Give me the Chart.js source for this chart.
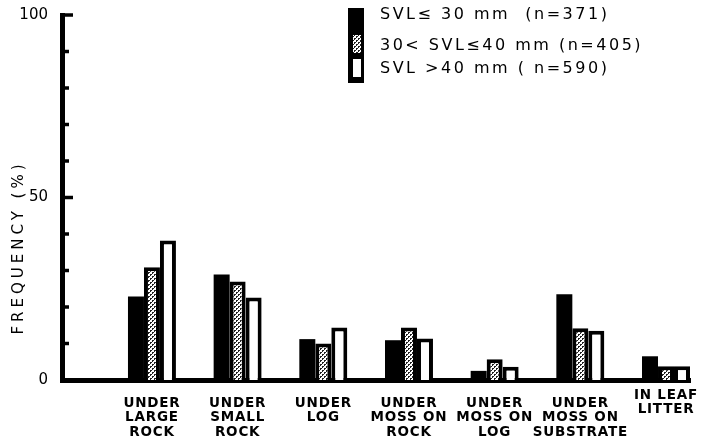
<!DOCTYPE html>
<html>
<head>
<meta charset="utf-8">
<script src="https://cdn.jsdelivr.net/npm/chart.js@4.4.0/dist/chart.umd.min.js"></script>
<style>
  html, body { margin: 0; padding: 0; background: #fff; }
  #wrap { width: 714px; height: 440px; position: relative; }
</style>
</head>
<body>
<div id="wrap"><canvas id="chart" width="714" height="440"></canvas></div>
<script>
// habitat categories (x axis, one entry per group, one string per line)
const categories = [
  ['UNDER', 'LARGE', 'ROCK'],
  ['UNDER', 'SMALL', 'ROCK'],
  ['UNDER', 'LOG'],
  ['UNDER', 'MOSS ON', 'ROCK'],
  ['UNDER', 'MOSS ON', 'LOG'],
  ['UNDER', 'MOSS ON', 'SUBSTRATE'],
  ['IN LEAF', 'LITTER']
];
// frequency (%) per size class
const svlSmall  = [22.9, 28.9, 11.2, 10.9, 2.5, 23.5, 6.5];
const svlMedium = [30.9, 27.0, 10.0, 14.4, 5.7, 14.2, 3.8];
const svlLarge  = [38.2, 22.6, 14.4, 11.4, 3.6, 13.5, 3.8];
const seriesLabels = ['SVL\u2264 30 mm  (n=371)', '30< SVL\u226440 mm (n=405)', 'SVL >40 mm ( n=590)'];
const yTickLabels = [0, 50, 100];

// stippled fill for the middle class
function stipple() {
  const c = document.createElement('canvas');
  c.width = 4; c.height = 4;
  const g = c.getContext('2d');
  g.fillStyle = '#fff';
  g.fillRect(0, 0, 4, 4);
  g.fillStyle = '#222';
  g.fillRect(0, 0, 2, 1);
  g.fillRect(0, 1, 1, 1);
  g.fillRect(2, 2, 2, 1);
  g.fillRect(2, 3, 1, 1);
  return g.createPattern(c, 'repeat');
}
const dots = stipple();

const toPoints = (arr) => arr.map((v, i) => ({ x: i + 1, y: v }));

const font = '"DejaVu Sans", sans-serif';

// short ticks pointing into the plot
const innerTicks = {
  id: 'innerTicks',
  afterDraw(chart) {
    const y = chart.scales.y;
    const ctx = chart.ctx;
    ctx.save();
    ctx.strokeStyle = '#000';
    ctx.lineWidth = 3.5;
    y.ticks.forEach(t => {
      const py = y.getPixelForValue(t.value);
      const len = yTickLabels.includes(t.value) ? 11 : 7;
      ctx.beginPath();
      ctx.moveTo(y.right, py);
      ctx.lineTo(y.right + len, py);
      ctx.stroke();
    });
    ctx.restore();
  }
};

// category labels, legend and axis title
const annotations = {
  id: 'annotations',
  afterDraw(chart) {
    const ctx = chart.ctx;
    const x = chart.scales.x;
    const y = chart.scales.y;
    ctx.save();
    ctx.fillStyle = '#000';
    ctx.textBaseline = 'middle';

    // x labels
    ctx.font = 'bold 13.5px ' + font;
    ctx.letterSpacing = '0.8px';
    ctx.textAlign = 'center';
    categories.forEach((lines, i) => {
      const px = x.getPixelForValue(i + 1);
      const shift = i === categories.length - 1 ? -8 : 0;
      lines.forEach((s, j) => {
        ctx.fillText(s, px, x.top + 23 + shift + j * 14.5);
      });
    });

    // y title
    ctx.save();
    ctx.font = '15px ' + font;
    ctx.letterSpacing = '4px';
    ctx.translate(19, (y.top + y.bottom) / 2 + 50);
    ctx.rotate(-Math.PI / 2);
    ctx.fillText('FREQUENCY (%)', 0, 0);
    ctx.restore();

    // legend
    const lx = 348, ly = 8;
    ctx.fillStyle = '#000';
    ctx.fillRect(lx, ly, 16, 75);
    ctx.fillStyle = dots;
    ctx.fillRect(lx + 5, ly + 27, 8, 18);
    ctx.fillStyle = '#fff';
    ctx.fillRect(lx + 5, ly + 51, 8, 18);
    ctx.fillStyle = '#000';
    ctx.textAlign = 'left';
    ctx.font = '16px ' + font;
    ctx.letterSpacing = '2.5px';
    const rows = [15, 46, 69];
    seriesLabels.forEach((s, i) => ctx.fillText(s, 380, rows[i]));
    ctx.restore();
  }
};

new Chart(document.getElementById('chart'), {
  type: 'bar',
  data: {
    datasets: [
      { label: seriesLabels[0], data: toPoints(svlSmall), backgroundColor: '#000', borderWidth: 0 },
      { label: seriesLabels[1], data: toPoints(svlMedium), backgroundColor: dots, borderColor: '#000', borderWidth: 4, borderSkipped: 'bottom' },
      { label: seriesLabels[2], data: toPoints(svlLarge), backgroundColor: '#fff', borderColor: '#000', borderWidth: 4, borderSkipped: 'bottom' }
    ]
  },
  options: {
    responsive: false,
    animation: false,
    layout: { padding: { top: 14, right: 24, left: 0, bottom: 0 } },
    datasets: { bar: { barPercentage: 1, categoryPercentage: 0.56 } },
    plugins: { legend: { display: false }, tooltip: { enabled: false } },
    scales: {
      x: {
        type: 'linear',
        offset: false,
        min: -0.05,
        max: 7.28,
        grid: { display: false, offset: false },
        border: { display: true, width: 5, color: '#000' },
        ticks: { display: false },
        afterFit(scale) { scale.height = 60; }
      },
      y: {
        min: 0,
        max: 100,
        grid: { display: false },
        border: { display: true, width: 5, color: '#000' },
        ticks: {
          stepSize: 10,
          padding: 6,
          color: '#000',
          font: { family: font, size: 15 },
          callback: (v) => yTickLabels.includes(v) ? String(v) : ''
        },
        afterFit(scale) { scale.width = 62; }
      }
    }
  },
  plugins: [innerTicks, annotations]
});
</script>
</body>
</html>
